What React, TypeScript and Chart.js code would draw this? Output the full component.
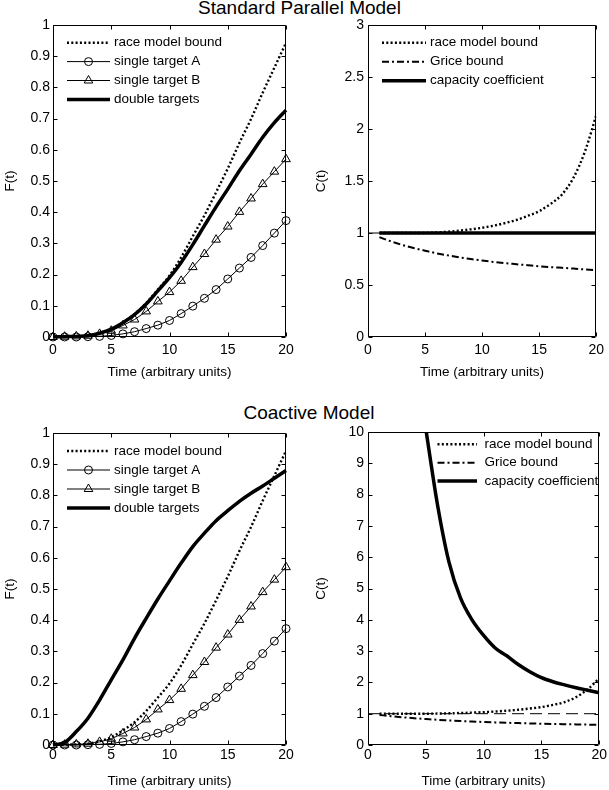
import React, { useEffect, useRef } from "react";
import { Chart, registerables } from "chart.js";

Chart.register(...registerables);

const FAMILY = "'Liberation Sans', Arial, Helvetica, sans-serif";

// ---------- data ----------
const timeF = [0, 1, 2, 3, 4, 5, 6, 7, 8, 9, 10, 11, 12, 13, 14, 15, 16, 17, 18, 19, 20];
const timeC = [1, 2, 3, 4, 5, 6, 7, 8, 9, 10, 11, 12, 13, 14, 15, 16, 17, 18, 19, 20];
const timeCoactiveCap = [5, 6, 7, 8, 9, 10, 11, 12, 13, 14, 15, 16, 17, 18, 19, 20];

const singleA = [0, 0, 0, 0.001, 0.002, 0.005, 0.01, 0.017, 0.027, 0.038, 0.053, 0.075, 0.099, 0.124, 0.152, 0.186, 0.221, 0.255, 0.293, 0.333, 0.373];
const singleB = [0, 0.001, 0.002, 0.004, 0.01, 0.02, 0.037, 0.056, 0.082, 0.114, 0.144, 0.18, 0.224, 0.266, 0.312, 0.354, 0.401, 0.444, 0.49, 0.53, 0.57];
const raceF = [0, 0.001, 0.002, 0.004, 0.012, 0.025, 0.047, 0.073, 0.109, 0.152, 0.197, 0.255, 0.323, 0.39, 0.464, 0.54, 0.622, 0.699, 0.783, 0.863, 0.943];
const doubleParallel = [0, 0.001, 0.002, 0.004, 0.012, 0.025, 0.046, 0.072, 0.106, 0.148, 0.19, 0.239, 0.296, 0.357, 0.417, 0.474, 0.533, 0.586, 0.64, 0.687, 0.727];
const doubleCoactive = [0, 0.008, 0.043, 0.086, 0.144, 0.209, 0.273, 0.342, 0.406, 0.468, 0.526, 0.583, 0.636, 0.679, 0.719, 0.751, 0.781, 0.807, 0.83, 0.855, 0.88];

const raceC = [1.0, 1.0, 1.0, 1.0, 1.0, 1.005, 1.012, 1.022, 1.035, 1.05, 1.07, 1.095, 1.125, 1.165, 1.21, 1.28, 1.37, 1.53, 1.78, 2.13];
const griceC = [0.96, 0.92, 0.885, 0.855, 0.83, 0.805, 0.785, 0.765, 0.75, 0.735, 0.722, 0.71, 0.7, 0.69, 0.68, 0.672, 0.665, 0.658, 0.65, 0.642];
const capacityParallel = [1, 1, 1, 1, 1, 1, 1, 1, 1, 1, 1, 1, 1, 1, 1, 1, 1, 1, 1, 1];
const capacityCoactive = [10.1, 7.7, 5.85, 4.7, 4.0, 3.5, 3.1, 2.85, 2.57, 2.34, 2.15, 2.02, 1.92, 1.83, 1.75, 1.67];

const refLineX = [0, 20];
const refLineY = [1, 1];

const xTicks = [0, 5, 10, 15, 20];
const xTickLabels = ["0", "5", "10", "15", "20"];
const fTicks = [0, 0.1, 0.2, 0.3, 0.4, 0.5, 0.6, 0.7, 0.8, 0.9, 1];
const fTickLabels = ["0", "0.1", "0.2", "0.3", "0.4", "0.5", "0.6", "0.7", "0.8", "0.9", "1"];
const cTicksTop = [0, 0.5, 1, 1.5, 2, 2.5, 3];
const cTickLabelsTop = ["0", "0.5", "1", "1.5", "2", "2.5", "3"];
const cTicksBottom = [0, 1, 2, 3, 4, 5, 6, 7, 8, 9, 10];
const cTickLabelsBottom = ["0", "1", "2", "3", "4", "5", "6", "7", "8", "9", "10"];

const xTitle = "Time (arbitrary units)";

// ---------- helpers ----------
const pts = (xs: number[], ys: number[]) => xs.map((x, i) => ({ x, y: ys[i] }));

const DOT = [2, 2.3];
const DOT_WIDTH = 2.4;
const DASHDOT = [7, 3, 2, 3];
const REFDASH = [12, 6];

function drawMarker(ctx: CanvasRenderingContext2D, style: string, x: number, y: number) {
  ctx.beginPath();
  ctx.lineWidth = 1;
  ctx.setLineDash([]);
  if (style === "circle") {
    ctx.arc(x, y, 4, 0, Math.PI * 2);
  } else if (style === "triangle") {
    const r = 5;
    let a = 0;
    ctx.moveTo(x + Math.sin(a) * r, y - Math.cos(a) * r);
    a += (2 * Math.PI) / 3;
    ctx.lineTo(x + Math.sin(a) * r, y - Math.cos(a) * r);
    a += (2 * Math.PI) / 3;
    ctx.lineTo(x + Math.sin(a) * r, y - Math.cos(a) * r);
    ctx.closePath();
  }
  ctx.stroke();
}

const framePlugin = {
  id: "mframe",
  afterDatasetsDraw(chart: any) {
    const { ctx, chartArea: a, scales } = chart;
    const L = Math.round(a.left) + 0.5;
    const R = Math.round(a.right) - 0.5;
    const T = Math.round(a.top) + 0.5;
    const B = Math.round(a.bottom) - 0.5;
    const tl = 4;
    ctx.save();
    ctx.strokeStyle = "#000";
    ctx.lineWidth = 1;
    ctx.setLineDash([]);
    ctx.beginPath();
    ctx.rect(L, T, R - L, B - T);
    for (const t of scales.x.ticks) {
      const px = Math.round(scales.x.getPixelForValue(t.value)) + 0.5;
      ctx.moveTo(px, B);
      ctx.lineTo(px, B - tl);
      ctx.moveTo(px, T);
      ctx.lineTo(px, T + tl);
    }
    for (const t of scales.y.ticks) {
      const py = Math.round(scales.y.getPixelForValue(t.value)) + 0.5;
      ctx.moveTo(L, py);
      ctx.lineTo(L + tl, py);
      ctx.moveTo(R, py);
      ctx.lineTo(R - tl, py);
    }
    ctx.stroke();
    ctx.restore();
  },
};

function drawLegend(
  chart: any,
  items: any[],
  cfg: { x0: number; x1: number; xt: number; y0: number; dy: number }
) {
  const { ctx, chartArea: a } = chart;
  ctx.save();
  ctx.font = `13.5px ${FAMILY}`;
  ctx.textBaseline = "middle";
  ctx.textAlign = "left";
  ctx.fillStyle = "#000";
  ctx.strokeStyle = "#000";
  items.forEach((d: any, i: number) => {
    const y = a.top + cfg.y0 + i * cfg.dy;
    const x0 = a.left + cfg.x0;
    const x1 = a.left + cfg.x1;
    ctx.beginPath();
    ctx.lineCap = "butt";
    ctx.setLineDash(d.borderDash || []);
    ctx.lineWidth = d.borderWidth;
    ctx.moveTo(x0, y);
    ctx.lineTo(x1, y);
    ctx.stroke();
    ctx.setLineDash([]);
    if (d.pointRadius > 0) drawMarker(ctx, d.pointStyle, (x0 + x1) / 2, y);
    ctx.fillText(d.label, a.left + cfg.xt, y);
  });
  ctx.restore();
}

const tickFont = { family: FAMILY, size: 14 };
const titleFont = { family: FAMILY, size: 13.5 };

function fDatasets(doubleVals: number[]) {
  return [
    {
      label: "double targets",
      data: pts(timeF, doubleVals),
      borderColor: "#000",
      borderWidth: 3.5,
      pointRadius: 0,
      cubicInterpolationMode: "monotone",
      inLegend: true,
      legendOrder: 3,
      clip: false,
    },
    {
      label: "race model bound",
      data: pts(timeF, raceF),
      borderColor: "#000",
      borderWidth: DOT_WIDTH,
      borderDash: DOT,
      pointRadius: 0,
      cubicInterpolationMode: "monotone",
      inLegend: true,
      legendOrder: 0,
      clip: false,
    },
    {
      label: "single target A",
      data: pts(timeF, singleA),
      borderColor: "#000",
      borderWidth: 1,
      pointStyle: "circle",
      pointRadius: 4,
      pointBorderWidth: 1,
      pointBorderColor: "#000",
      pointBackgroundColor: "rgba(0,0,0,0)",
      inLegend: true,
      legendOrder: 1,
      clip: false,
    },
    {
      label: "single target B",
      data: pts(timeF, singleB),
      borderColor: "#000",
      borderWidth: 1,
      pointStyle: "triangle",
      pointRadius: 5,
      pointBorderWidth: 1,
      pointBorderColor: "#000",
      pointBackgroundColor: "rgba(0,0,0,0)",
      inLegend: true,
      legendOrder: 2,
      clip: false,
    },
  ];
}

function cDatasets(capX: number[], capY: number[]) {
  return [
    {
      label: "capacity coefficient",
      data: pts(capX, capY),
      borderColor: "#000",
      borderWidth: 3.5,
      pointRadius: 0,
      cubicInterpolationMode: "monotone",
      inLegend: true,
      legendOrder: 2,
      clip: 0,
    },
    {
      label: "race model bound",
      data: pts(timeC, raceC),
      borderColor: "#000",
      borderWidth: DOT_WIDTH,
      borderDash: DOT,
      pointRadius: 0,
      cubicInterpolationMode: "monotone",
      inLegend: true,
      legendOrder: 0,
      clip: 0,
    },
    {
      label: "Grice bound",
      data: pts(timeC, griceC),
      borderColor: "#000",
      borderWidth: 2,
      borderDash: DASHDOT,
      pointRadius: 0,
      cubicInterpolationMode: "monotone",
      inLegend: true,
      legendOrder: 1,
      clip: 0,
    },
    {
      label: "reference",
      data: pts(refLineX, refLineY),
      borderColor: "#000",
      borderWidth: 1,
      borderDash: REFDASH,
      pointRadius: 0,
      inLegend: false,
      clip: 0,
    },
  ];
}

type PanelCfg = {
  left: number;
  top: number;
  width: number;
  height: number;
  pad: { left: number; top: number; right: number; bottom: number };
  yWidth: number;
  xHeight: number;
  yMax: number;
  yTicks: number[];
  yLabels: string[];
  yTitle: string;
  yTickPad: number;
  yTitlePad: number;
  xTickPad: number;
  xTitlePad: number;
  datasets: any[];
  legend: { x0: number; x1: number; xt: number; y0: number; dy: number };
};

function Panel({ cfg }: { cfg: PanelCfg }) {
  const ref = useRef<HTMLCanvasElement | null>(null);
  useEffect(() => {
    if (!ref.current) return;
    const datasets = cfg.datasets.slice();
    const legendItems = datasets
      .filter((d) => d.inLegend)
      .sort((a, b) => a.legendOrder - b.legendOrder);
    const chart = new Chart(ref.current, {
      type: "line",
      data: { datasets: datasets as any },
      options: {
        responsive: false,
        maintainAspectRatio: false,
        animation: false,
        events: [],
        layout: { padding: cfg.pad },
        plugins: { legend: { display: false }, tooltip: { enabled: false } },
        scales: {
          x: {
            type: "linear",
            min: 0,
            max: 20,
            afterBuildTicks: (s: any) => {
              s.ticks = xTicks.map((v) => ({ value: v }));
            },
            afterFit: (s: any) => {
              s.height = cfg.xHeight;
            },
            ticks: {
              callback: (_v: any, i: number) => xTickLabels[i],
              font: tickFont,
              color: "#000",
              padding: cfg.xTickPad,
              maxRotation: 0,
              autoSkip: false,
            },
            grid: { display: false, drawTicks: false },
            border: { display: false },
            title: {
              display: true,
              text: xTitle,
              font: titleFont,
              color: "#000",
              padding: { top: 0, bottom: cfg.xTitlePad },
            },
          },
          y: {
            type: "linear",
            min: 0,
            max: cfg.yMax,
            afterBuildTicks: (s: any) => {
              s.ticks = cfg.yTicks.map((v) => ({ value: v }));
            },
            afterFit: (s: any) => {
              s.width = cfg.yWidth;
            },
            ticks: {
              callback: (_v: any, i: number) => cfg.yLabels[i],
              font: tickFont,
              color: "#000",
              padding: cfg.yTickPad,
              autoSkip: false,
            },
            grid: { display: false, drawTicks: false },
            border: { display: false },
            title: {
              display: true,
              text: cfg.yTitle,
              font: titleFont,
              color: "#000",
              padding: { top: cfg.yTitlePad, bottom: 0 },
            },
          },
        },
      } as any,
      plugins: [
        framePlugin,
        {
          id: "mlegend",
          afterDraw(c: any) {
            drawLegend(c, legendItems, cfg.legend);
          },
        },
      ],
    });
    return () => chart.destroy();
  }, [cfg]);
  return (
    <canvas
      ref={ref}
      width={cfg.width}
      height={cfg.height}
      style={{
        position: "absolute",
        left: cfg.left,
        top: cfg.top,
        width: cfg.width,
        height: cfg.height,
      }}
    />
  );
}

const panels: PanelCfg[] = [
  {
    left: 0, top: 0, width: 305, height: 395,
    pad: { left: 0, top: 25, right: 19, bottom: 0 },
    yWidth: 53, xHeight: 58, yMax: 1,
    yTicks: fTicks, yLabels: fTickLabels, yTitle: "F(t)",
    yTickPad: 3, yTitlePad: 2, xTickPad: 5, xTitlePad: 15,
    datasets: fDatasets(doubleParallel),
    legend: { x0: 14, x1: 57, xt: 61, y0: 17.7, dy: 18.9 },
  },
  {
    left: 305, top: 0, width: 304, height: 395,
    pad: { left: 0, top: 25, right: 9, bottom: 0 },
    yWidth: 63, xHeight: 58, yMax: 3,
    yTicks: cTicksTop, yLabels: cTickLabelsTop, yTitle: "C(t)",
    yTickPad: 4, yTitlePad: 8, xTickPad: 5, xTitlePad: 15,
    datasets: cDatasets(timeC, capacityParallel),
    legend: { x0: 14, x1: 58, xt: 62, y0: 17.7, dy: 19 },
  },
  {
    left: 0, top: 395, width: 305, height: 395,
    pad: { left: 0, top: 38, right: 19, bottom: 0 },
    yWidth: 53, xHeight: 45, yMax: 1,
    yTicks: fTicks, yLabels: fTickLabels, yTitle: "F(t)",
    yTickPad: 3, yTitlePad: 2, xTickPad: 2, xTitlePad: 1,
    datasets: fDatasets(doubleCoactive),
    legend: { x0: 14, x1: 57, xt: 61, y0: 18, dy: 19 },
  },
  {
    left: 305, top: 395, width: 304, height: 395,
    pad: { left: 0, top: 37, right: 9, bottom: 0 },
    yWidth: 63, xHeight: 45, yMax: 10,
    yTicks: cTicksBottom, yLabels: cTickLabelsBottom, yTitle: "C(t)",
    yTickPad: 4, yTitlePad: 8, xTickPad: 2, xTitlePad: 1,
    datasets: cDatasets(timeCoactiveCap, capacityCoactive),
    legend: { x0: 69.5, x1: 109, xt: 116.5, y0: 12.3, dy: 18.4 },
  },
];

const titleStyle = (center: number, top: number): React.CSSProperties => ({
  position: "absolute",
  left: center - 200,
  top,
  width: 400,
  textAlign: "center",
  fontFamily: FAMILY,
  fontSize: 19,
  lineHeight: "19px",
  color: "#000",
  whiteSpace: "nowrap",
});

export default function App() {
  return (
    <div
      style={{
        position: "absolute",
        left: 0,
        top: 0,
        width: 609,
        height: 790,
        background: "#fff",
        overflow: "hidden",
      }}
    >
      <div style={titleStyle(299.5, -2)}>Standard Parallel Model</div>
      <div style={titleStyle(309, 403)}>Coactive Model</div>
      {panels.map((p, i) => (
        <Panel key={i} cfg={p} />
      ))}
    </div>
  );
}
